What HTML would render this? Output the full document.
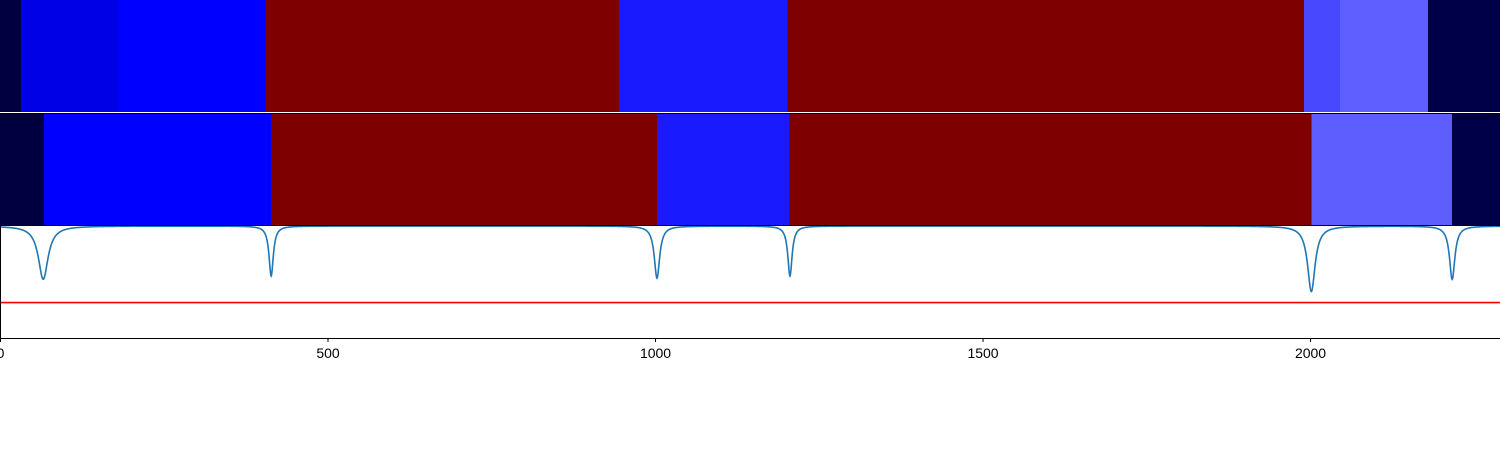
<!DOCTYPE html>
<html><head><meta charset="utf-8"><style>
body{margin:0;background:#fff;width:1500px;height:450px;overflow:hidden}
svg{display:block;font-family:"Liberation Sans","DejaVu Sans",sans-serif}
</style></head><body>
<svg id="chart" width="1500" height="450" viewBox="0 0 1500 450"></svg>
<script>
const xMax = 2290;
const topBounds = [0, 32, 180, 405, 945, 1202, 1991, 2046, 2180, 2290];
const topColors = ["#00003f", "#0000e6", "#0000ff", "#7f0000", "#1a1aff", "#7f0000", "#4848ff", "#5f5fff", "#000048"];
const midBounds = [0, 67, 414, 1003, 1205, 2002, 2217, 2290];
const midColors = ["#000040", "#0000ff", "#7f0000", "#1a1aff", "#7f0000", "#5e5eff", "#000048"];
const dipCenters = [66, 414, 1003, 1206, 2002, 2217];
const dipDepths = [-0.48, -0.45, -0.47, -0.45, -0.59, -0.48];
const dipWidths = [9, 4, 5, 4, 7, 5];
const threshold = -0.69;
const xTicks = [0, 500, 1000, 1500, 2000];

const NS = "http://www.w3.org/2000/svg";
const svg = document.getElementById("chart");
const X = v => v / xMax * 1500;
const Y = v => 226 - v * 111;
function mk(tag, attrs, parent) {
  const e = document.createElementNS(NS, tag);
  for (const k in attrs) e.setAttribute(k, attrs[k]);
  (parent || svg).appendChild(e);
  return e;
}
function strip(bounds, colors, y, h, name) {
  const g = mk("g", {"shape-rendering": "crispEdges"});
  
  
  for (let i = 0; i < colors.length; i++) {
    const r = mk("rect", {x: X(bounds[i]), y: y, width: X(bounds[i + 1]) - X(bounds[i]) + 0.6, height: h, fill: colors[i]}, g);
    
    
  }
}
strip(topBounds, topColors, 0, 112, "top-strip");
strip(midBounds, midColors, 113, 113, "middle-strip");
const b1 = mk("line", {x1: 0, x2: 1500, y1: 113.5, y2: 113.5, stroke: "#000", "stroke-width": 1});



const ax = mk("g", {});


let pts = [];
for (let u = 0; u <= xMax; u += 0.5) {
  let v = 0;
  for (let i = 0; i < dipCenters.length; i++) {
    const g = dipWidths[i], d = u - dipCenters[i];
    v += dipDepths[i] * g * g / (d * d + g * g);
  }
  pts.push(X(u).toFixed(2) + "," + Y(v).toFixed(2));
}
const line = mk("polyline", {points: pts.join(" "), fill: "none", stroke: "#1f77b4", "stroke-width": 1.6}, ax);


const th = mk("line", {x1: 0, x2: 1500, y1: Y(threshold), y2: Y(threshold), stroke: "#ff0000", "stroke-width": 1.6}, ax);


const frame = mk("path", {d: "M0,225.5 H1500 M0.5,225 V338.5 H1500", fill: "none", stroke: "#000", "stroke-width": 1}, ax);


for (const t of xTicks) {
  const tk = mk("line", {x1: X(t) + 0.5, x2: X(t) + 0.5, y1: 338, y2: 342, stroke: "#000", "stroke-width": 1}, ax);
  
  
  const tx = mk("text", {x: X(t) + 0.5, y: 358, "text-anchor": "middle", "font-size": 14, fill: "#000"}, ax);
  tx.textContent = t;
  
  
}
</script>
</body></html>
